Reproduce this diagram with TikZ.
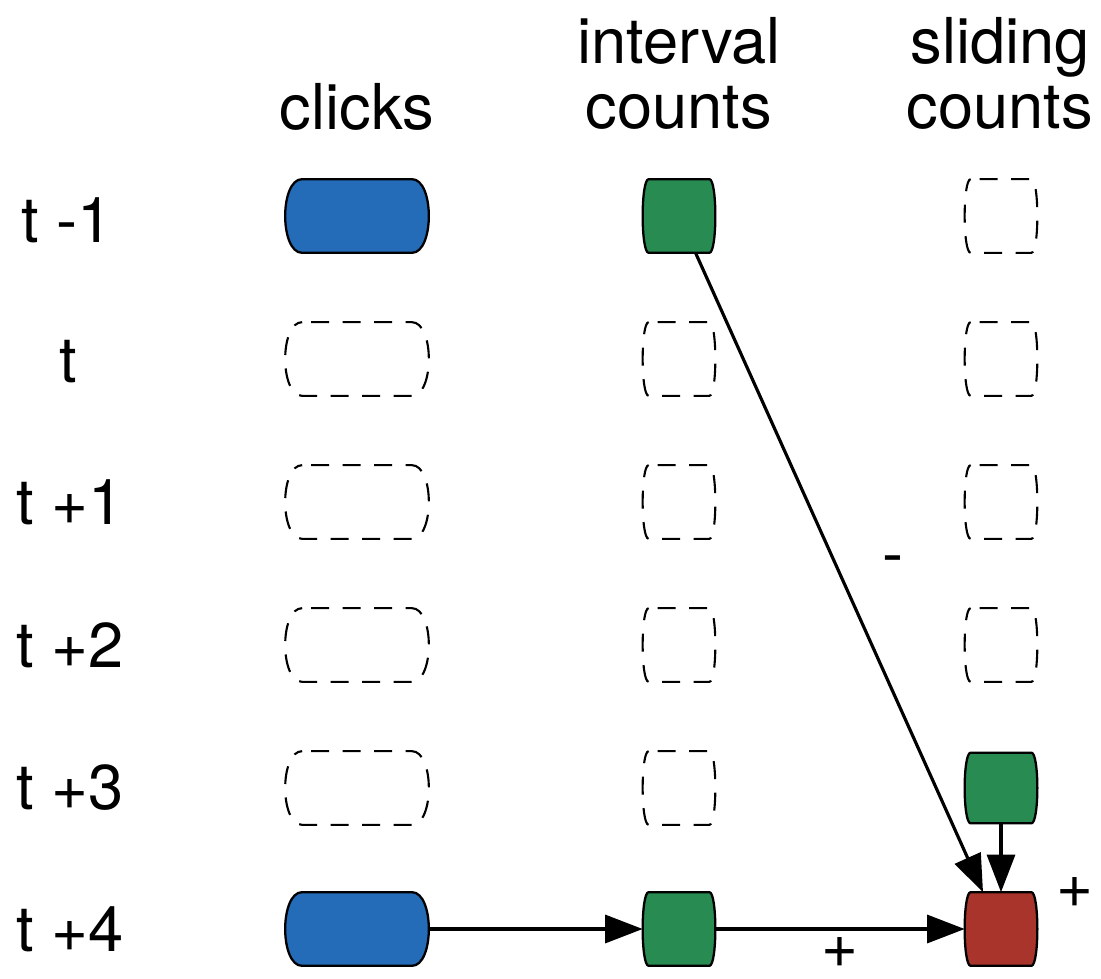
\documentclass[tikz,border=0pt]{standalone}
\usepackage{fontspec}
\setmainfont{TeX Gyre Heros}
\usetikzlibrary{arrows.meta}

\definecolor{clickblue}{RGB}{36,108,184}
\definecolor{countgreen}{RGB}{40,140,82}
\definecolor{sumred}{RGB}{168,52,44}

% outline of a cell: flat top and bottom, bulging sides
\newcommand{\celloutline}[3]{%
  \draw[#3] ([xshift=#2]#1.north west) -- ([xshift=-#2]#1.north east)
    .. controls ([xshift=#2/3]#1.north east) and ([xshift=#2/3]#1.south east) .. ([xshift=-#2]#1.south east)
    -- ([xshift=#2]#1.south west)
    .. controls ([xshift=-#2/3]#1.south west) and ([xshift=-#2/3]#1.north west) .. cycle;}

\tikzset{
  clickbox/.style={rectangle, inner sep=0pt, minimum width=2.86cm, minimum height=1.46cm},
  countbox/.style={rectangle, inner sep=0pt, minimum width=1.44cm, minimum height=1.46cm},
  fullline/.style={draw=black, line width=1.3pt, fill=#1},
  emptyline/.style={draw=black, line width=1.2pt, dash pattern=on 0.36cm off 0.27cm, dash phase=0.45cm},
  flow/.style={-{Triangle[length=0.75cm, width=0.56cm]}, line width=1.8pt},
  lbl/.style={font=\fontsize{36}{37}\selectfont, align=center}
}

\begin{document}
\begin{tikzpicture}[x=0.02cm, y=-0.02cm]
  \useasboundingbox (0,0) rectangle (1101,979);
  % Column headings
  \node[lbl, anchor=base] (hclicks) at (357,130) {clicks};
  \node[lbl] (hinterval) at (679,73) {interval\\counts};
  \node[lbl] (hsliding) at (1000,73) {sliding\\counts};
  % Row labels
  \node[lbl] (rm1) at (67,220) {t -1};
  \node[lbl] (r0) at (68,362) {t};
  \node[lbl] (r1) at (70,502) {t +1};
  \node[lbl] (r2) at (70,645) {t +2};
  \node[lbl] (r3) at (70,788) {t +3};
  \node[lbl] (r4) at (70,929) {t +4};
  % Filled cells
  \node[clickbox] (ck-1) at (357,216) {};
  \node[clickbox] (ck4) at (357,929) {};
  \node[countbox] (ic-1) at (679,216) {};
  \node[countbox] (ic4) at (679,929) {};
  \node[countbox, minimum height=1.4cm] (sc3) at (1001,788) {};
  \node[countbox] (sc4) at (1001,929) {};
  \celloutline{ck-1}{0.34cm}{fullline=clickblue}
  \celloutline{ck4}{0.34cm}{fullline=clickblue}
  \celloutline{ic-1}{0.12cm}{fullline=countgreen}
  \celloutline{ic4}{0.12cm}{fullline=countgreen}
  \celloutline{sc3}{0.12cm}{fullline=countgreen}
  \celloutline{sc4}{0.12cm}{fullline=sumred}
  % Empty cells
  \node[countbox] (sc-1) at (1001,216) {};
  \celloutline{sc-1}{0.12cm}{emptyline}
  \foreach \r/\y in {0/359,1/502,2/645,3/788} {
    \node[clickbox] (ck\r) at (357,\y) {};
    \node[countbox] (ic\r) at (679,\y) {};
    \celloutline{ck\r}{0.34cm}{emptyline}
    \celloutline{ic\r}{0.12cm}{emptyline}
  }
  \foreach \r/\y in {0/359,1/502,2/645} {
    \node[countbox] (sc\r) at (1001,\y) {};
    \celloutline{sc\r}{0.12cm}{emptyline}
  }
  % Updates
  \draw[flow] (ic-1) -- ([xshift=-0.36cm]sc4.north);
  \draw[flow] (sc3) -- (sc4);
  \draw[flow] (ck4) -- (ic4);
  \draw[flow] (ic4) -- (sc4);
  % Signs
  \node[lbl] (minus) at (893,566) {-};
  \node[lbl] (plusa) at (840,952) {+};
  \node[lbl] (plusb) at (1075,893) {+};
\end{tikzpicture}
\end{document}
